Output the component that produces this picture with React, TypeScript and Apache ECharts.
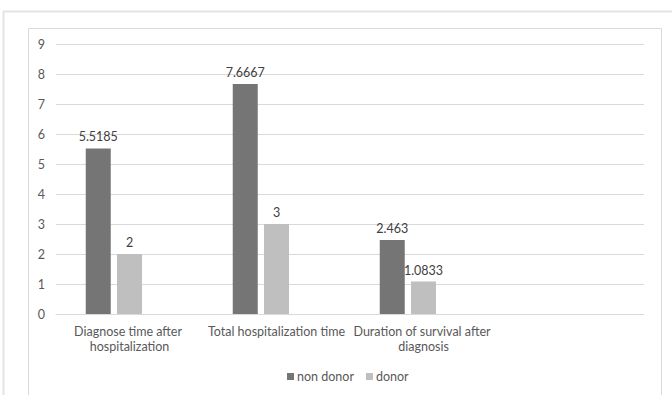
import React, { useEffect, useRef } from "react";
import * as echarts from "echarts";

const categories = [
  "Diagnose time after hospitalization",
  "Total hospitalization time",
  "Duration of survival after diagnosis",
  "",
];
const nonDonor = [5.5185, 7.6667, 2.463, null];
const donor = [2, 3, 1.0833, null];
const emptySeries = [null, null, null, null];
const yTicks = { min: 0, max: 9, interval: 1 };

const FONT = "Lato";
const TEXT = "#595959";
const FS = 12.5;

export default function App() {
  const ref = useRef<HTMLDivElement>(null);
  useEffect(() => {
    if (!ref.current) return;
    const chart = echarts.init(ref.current, null, { renderer: "svg" });
    const labelStyle = {
      show: true,
      position: "top" as const,
      distance: 5,
      color: "#404040",
      fontSize: FS,
      fontFamily: FONT,
    };
    chart.setOption({
      animation: false,
      backgroundColor: "#ffffff",
      textStyle: { fontFamily: FONT },
      graphic: [
        {
          type: "rect",
          shape: { x: 3.5, y: 11.5, width: 720, height: 420 },
          style: { fill: "none", stroke: "#E4E4E4", lineWidth: 2 },
          silent: true,
        },
        {
          type: "rect",
          shape: { x: 28.5, y: 28.5, width: 633, height: 420 },
          style: { fill: "none", stroke: "#D9D9D9", lineWidth: 1 },
          silent: true,
        },
      ],
      grid: { left: 56, right: 28, top: 44, bottom: 81, containLabel: false },
      legend: {
        data: ["non donor", "donor"],
        left: 287,
        top: 370,
        padding: 0,
        itemWidth: 7,
        itemHeight: 7,
        itemGap: 12,
        icon: "rect",
        textStyle: { color: TEXT, fontSize: FS, fontFamily: FONT, padding: [0, 0, 0, -2] },
      },
      xAxis: {
        type: "category",
        data: categories,
        axisLine: { lineStyle: { color: "#D9D9D9" } },
        axisTick: { show: false },
        axisLabel: {
          color: TEXT,
          fontSize: FS,
          fontFamily: FONT,
          margin: 10,
          lineHeight: 15,
          width: 145,
          overflow: "break",
          interval: 0,
        },
      },
      yAxis: {
        type: "value",
        min: yTicks.min,
        max: yTicks.max,
        interval: yTicks.interval,
        axisLine: { show: false },
        axisTick: { show: false },
        splitLine: { lineStyle: { color: "#D9D9D9" } },
        axisLabel: { color: TEXT, fontSize: FS, fontFamily: FONT, margin: 11 },
      },
      series: [
        {
          name: "non donor",
          type: "bar",
          data: nonDonor,
          barWidth: 25,
          barGap: "25%",
          itemStyle: { color: "#757575" },
          label: labelStyle,
        },
        {
          name: "donor",
          type: "bar",
          data: donor,
          barWidth: 25,
          barGap: "25%",
          itemStyle: { color: "#BFBFBF" },
          label: labelStyle,
        },
        {
          name: "",
          type: "bar",
          data: emptySeries,
          barWidth: 25,
          barGap: "25%",
          itemStyle: { color: "#A5A5A5" },
        },
      ],
    });
    return () => chart.dispose();
  }, []);
  return (
    <div
      ref={ref}
      style={{ position: "fixed", left: 0, top: 0, width: 672, height: 395 }}
    />
  );
}
